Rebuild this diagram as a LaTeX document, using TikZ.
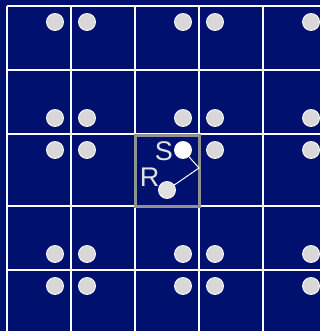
\documentclass[tikz,border=0pt]{standalone}
\usepackage{fontspec}
\setmainfont{Liberation Sans}
\definecolor{bgnavy}{RGB}{0,16,110}
\definecolor{dotgray}{RGB}{216,216,216}
\definecolor{boxgray}{RGB}{145,145,145}
\definecolor{labelgray}{RGB}{225,225,225}
\begin{document}
\begin{tikzpicture}[x=1pt,y=-1pt,
  gridline/.style={draw=white,line width=1.3pt},
  dotnode/.style={circle,fill=dotgray,draw=white,line width=0.8pt,minimum size=17pt,inner sep=0pt},
  sdot/.style={circle,fill=white,draw=white,line width=0.8pt,minimum size=17pt,inner sep=0pt},
  rdot/.style={circle,fill=dotgray!80!white,draw=white,line width=0.8pt,minimum size=17pt,inner sep=0pt},
  lbl/.style={text=labelgray,font=\fontsize{27}{27}\selectfont,inner sep=0pt},
  link/.style={draw=white,line width=1pt}]
\fill[bgnavy] (0,0) rectangle (320,331);
\useasboundingbox (0,0) rectangle (320,331);
% grid
\foreach \yy in {6,70,134,206,270} \draw[gridline] (7,\yy) -- (320,\yy);
\foreach \xx in {7,71,135,199,263} \draw[gridline] (\xx,6) -- (\xx,331);
% dots
\foreach \yy [count=\i] in {22,118,150,254,286}
  \foreach \xx [count=\j] in {55,87,183,215,311} {
    \ifnum\i=3 \ifnum\j=3 \else \node[dotnode] (d\i\j) at (\xx,\yy) {}; \fi
    \else \node[dotnode] (d\i\j) at (\xx,\yy) {}; \fi
  }
% highlighted box
\node[draw=boxgray,line width=3pt,minimum width=64pt,minimum height=71pt,inner sep=0pt] (box) at (167.5,170.5) {};
\coordinate (bend) at (199,168);
\node[sdot] (S) at (183,150) {};
\node[rdot] (R) at (167,190) {};
\draw[link] (S) -- (bend) -- (R);
\node[lbl] (Slbl) at (164,151) {S};
\node[lbl] (Rlbl) at (149.5,177.5) {R};
\end{tikzpicture}
\end{document}
